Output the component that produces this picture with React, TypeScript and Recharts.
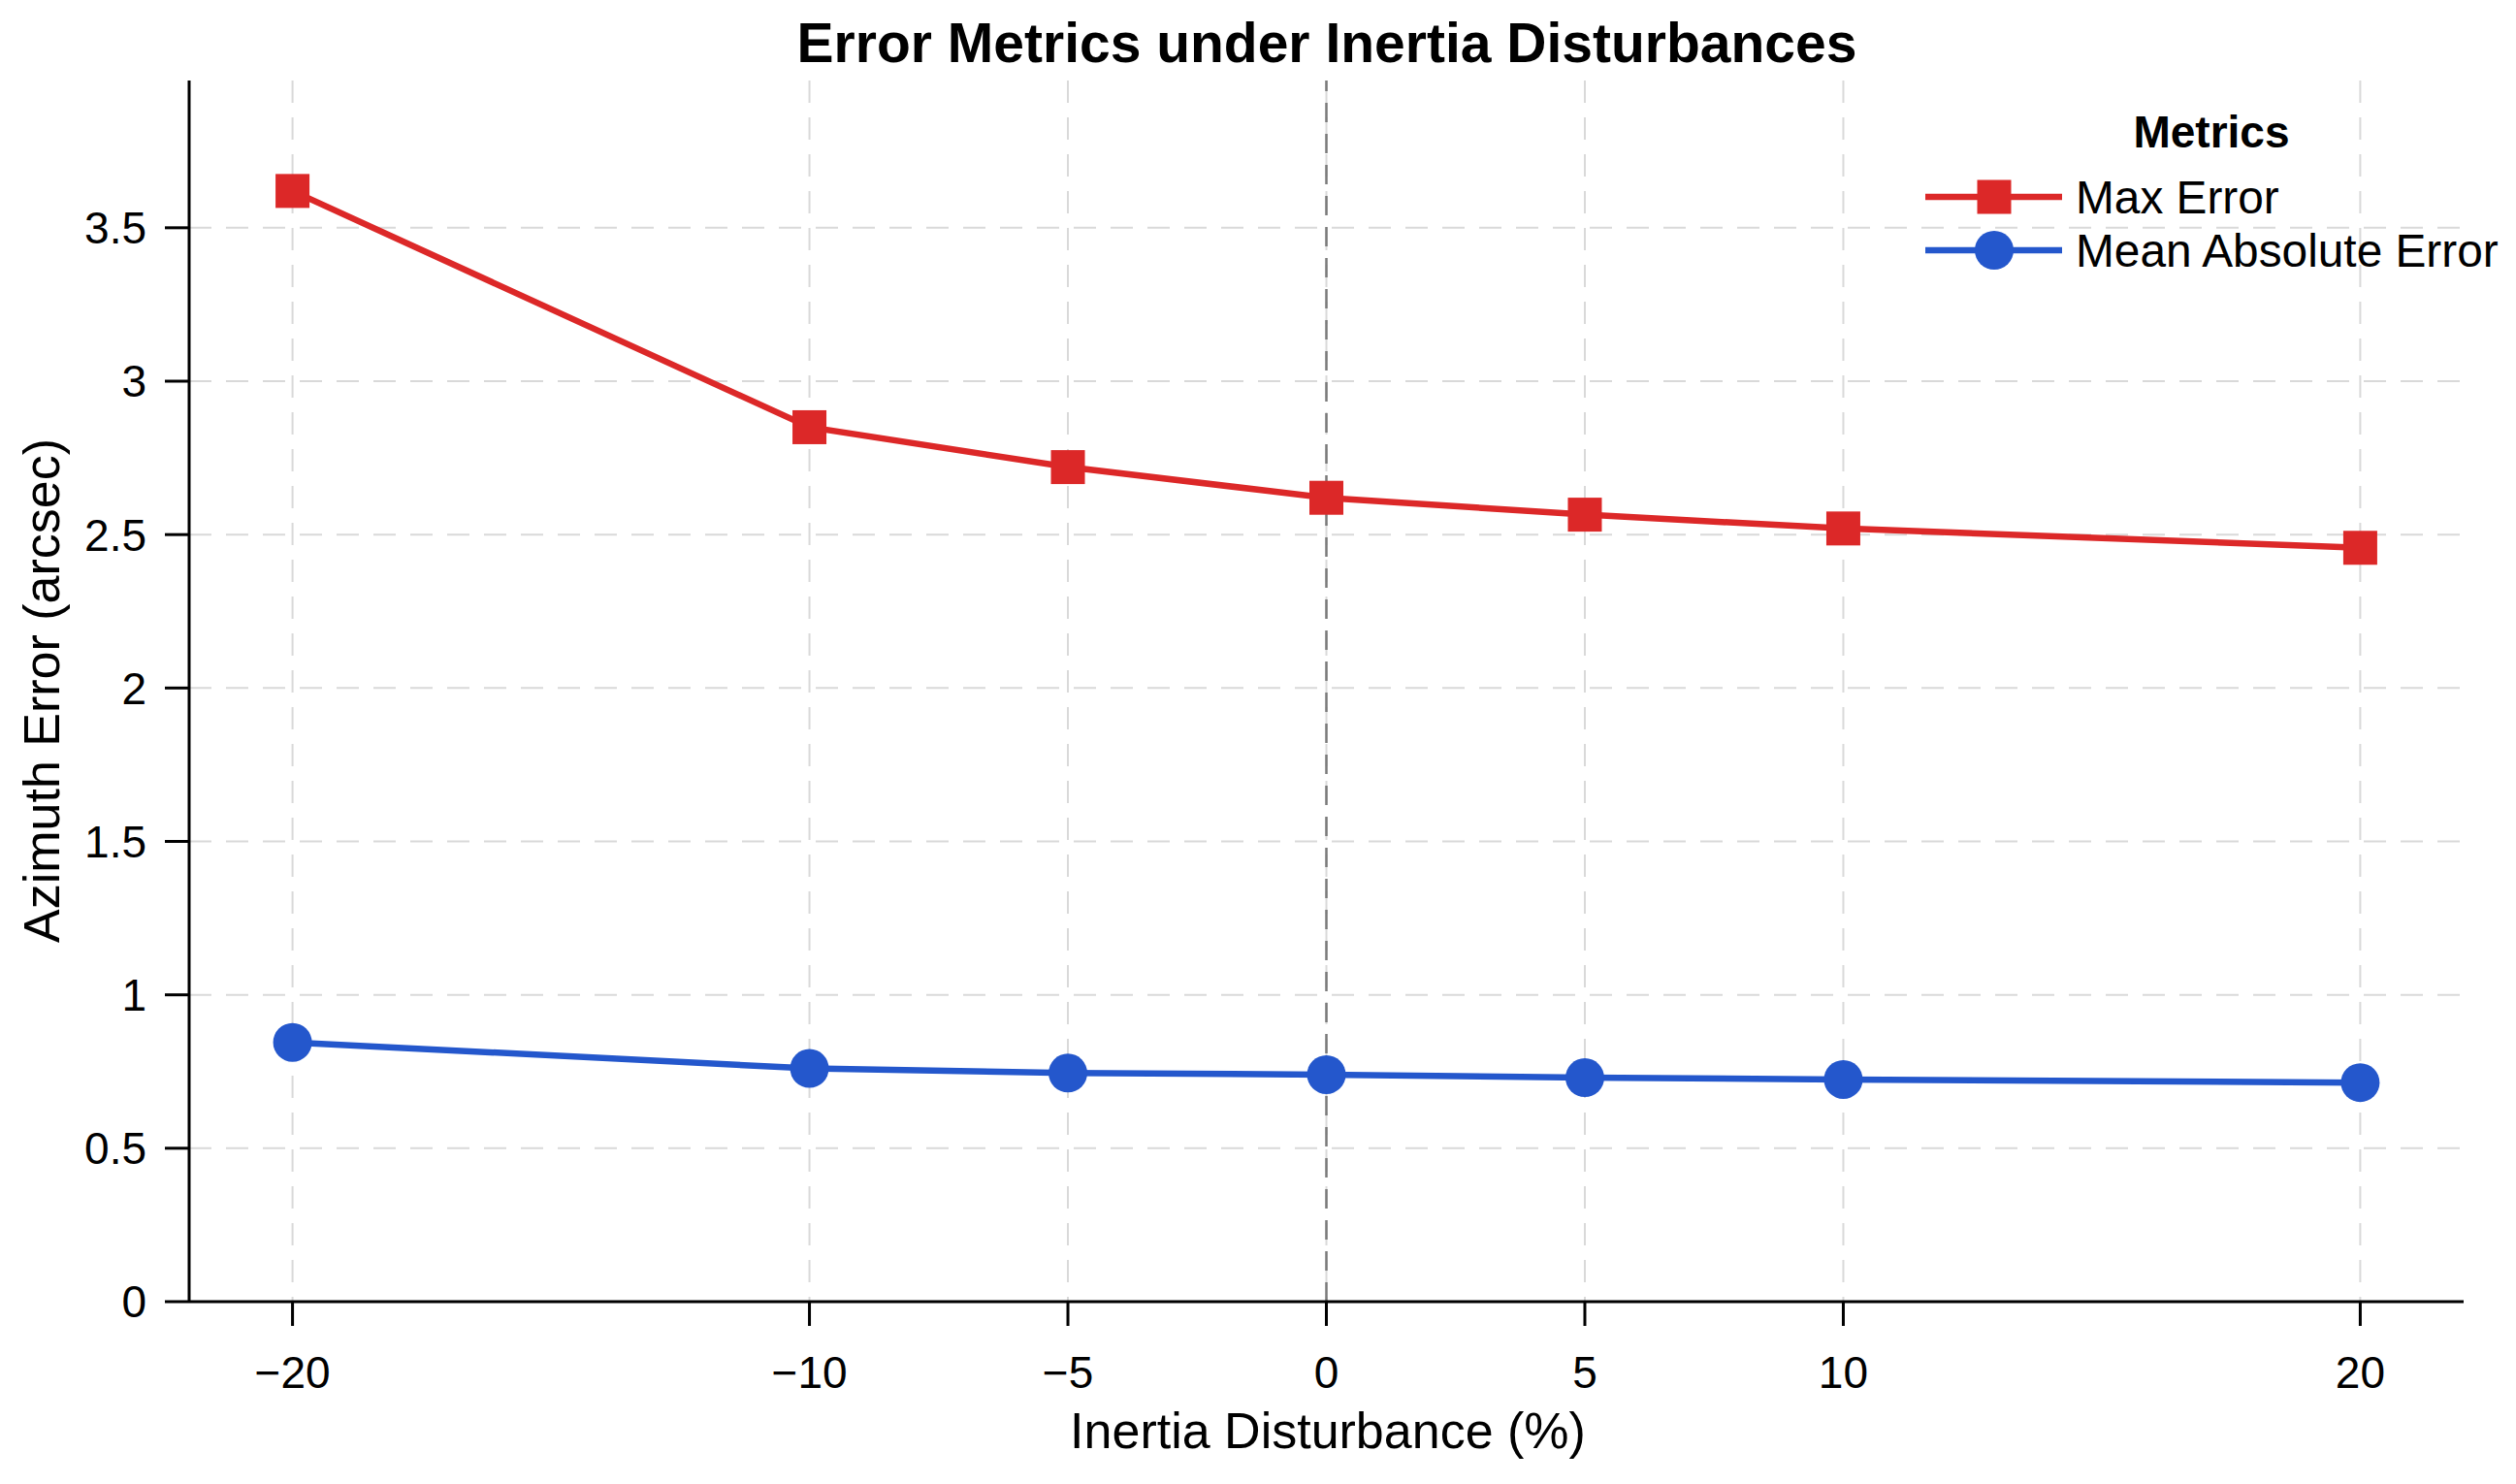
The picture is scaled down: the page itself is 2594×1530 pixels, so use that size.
import React from "react";
import {
  LineChart,
  Line,
  XAxis,
  YAxis,
  CartesianGrid,
  ReferenceLine,
} from "recharts";

// values
const disturbance = [-20, -10, -5, 0, 5, 10, 20];
const maxError = [3.62, 2.85, 2.72, 2.62, 2.565, 2.52, 2.457];
const meanAbsError = [0.845, 0.76, 0.745, 0.74, 0.73, 0.724, 0.714];

const xTicks = [-20, -10, -5, 0, 5, 10, 20];
const yTicks = [0, 0.5, 1, 1.5, 2, 2.5, 3, 3.5];

const X_DOMAIN: [number, number] = [-22, 22];
const Y_DOMAIN: [number, number] = [0, 3.98];

const RED = "#dc2828";
const BLUE = "#2457cc";
const FONT = "'Liberation Sans', Arial, Helvetica, sans-serif";

const series = [
  { key: "maxError", name: "Max Error", color: RED, marker: "square" },
  { key: "meanAbsError", name: "Mean Absolute Error", color: BLUE, marker: "circle" },
];

const data = disturbance.map((x, i) => ({
  x,
  maxError: maxError[i],
  meanAbsError: meanAbsError[i],
}));

const W = 2594;
const H = 1530;

const fmtMinus = (v: number) => (v < 0 ? `\u2212${Math.abs(v)}` : `${v}`);

const SquareDot = (color: string) => (props: any) => {
  const { cx, cy, index } = props;
  if (cx == null || cy == null) return null;
  return (
    <rect
      key={`sq-${index}`}
      x={cx - 17.5}
      y={cy - 17.5}
      width={35}
      height={35}
      fill={color}
    />
  );
};

// grid lines only at the tick values (no lines on the plot edges)
const vGrid = ({ xAxis, offset }: any) => {
  const sc = xAxis && typeof xAxis.scale === "function" ? xAxis.scale : null;
  return xTicks.map((t) =>
    sc
      ? sc(t)
      : offset.left +
        ((t - X_DOMAIN[0]) / (X_DOMAIN[1] - X_DOMAIN[0])) * offset.width
  );
};
const hGrid = ({ yAxis, offset }: any) => {
  const sc = yAxis && typeof yAxis.scale === "function" ? yAxis.scale : null;
  return yTicks
    .filter((t) => t > 0)
    .map((t) =>
      sc
        ? sc(t)
        : offset.top +
          offset.height -
          ((t - Y_DOMAIN[0]) / (Y_DOMAIN[1] - Y_DOMAIN[0])) * offset.height
    );
};

const tickStyle = { fill: "#000", fontSize: 46, fontFamily: FONT };

export default function App() {
  return (
    <div
      style={{
        position: "fixed",
        left: 0,
        top: 0,
        width: W,
        height: H,
        background: "#fff",
      }}
    >
      <LineChart
        width={W}
        height={H}
        data={data}
        margin={{ top: 83, right: 54, left: 0, bottom: 0 }}
      >
        <CartesianGrid
          stroke="#d9d9d9"
          strokeWidth={2}
          strokeDasharray="23 15"
          verticalCoordinatesGenerator={vGrid}
          horizontalCoordinatesGenerator={hGrid}
        />
        <XAxis
          type="number"
          dataKey="x"
          domain={X_DOMAIN}
          ticks={xTicks}
          allowDataOverflow
          height={188}
          tickFormatter={fmtMinus}
          tick={tickStyle}
          tickSize={25}
          tickMargin={31}
          tickLine={{ stroke: "#000", strokeWidth: 3 }}
          axisLine={{ stroke: "#000", strokeWidth: 3 }}
        />
        <YAxis
          type="number"
          domain={Y_DOMAIN}
          ticks={yTicks}
          allowDataOverflow
          width={195}
          tick={tickStyle}
          tickSize={25}
          tickMargin={19}
          tickLine={{ stroke: "#000", strokeWidth: 3 }}
          axisLine={{ stroke: "#000", strokeWidth: 3 }}
        />
        <ReferenceLine
          x={0}
          stroke="#7a7a7a"
          strokeWidth={2.5}
          strokeDasharray="20 12"
        />
        {series.map((s) => (
          <Line
            key={s.key}
            type="linear"
            dataKey={s.key}
            name={s.name}
            stroke={s.color}
            strokeWidth={6.5}
            dot={
              s.marker === "square"
                ? SquareDot(s.color)
                : { r: 20, fill: s.color, stroke: s.color, strokeWidth: 0 }
            }
            activeDot={false}
            isAnimationActive={false}
          />
        ))}
      </LineChart>

      <svg
        width={W}
        height={H}
        style={{ position: "absolute", left: 0, top: 0, pointerEvents: "none" }}
      >
        <text
          x={1368}
          y={64}
          textAnchor="middle"
          fontFamily={FONT}
          fontWeight="bold"
          fontSize={57}
        >
          Error Metrics under Inertia Disturbances
        </text>
        <text
          x={1369}
          y={1493}
          textAnchor="middle"
          fontFamily={FONT}
          fontSize={52}
        >
          Inertia Disturbance (%)
        </text>
        <text
          x={61}
          y={712}
          textAnchor="middle"
          fontFamily={FONT}
          fontSize={52}
          transform="rotate(-90, 61, 712)"
        >
          Azimuth Error (arcsec)
        </text>

        {/* legend */}
        <text
          x={2280}
          y={152}
          textAnchor="middle"
          fontFamily={FONT}
          fontWeight="bold"
          fontSize={46}
        >
          Metrics
        </text>
        {series.map((s, i) => {
          const cy = 203 + i * 55;
          return (
            <g key={s.key}>
              <line x1={1985} x2={2126} y1={cy} y2={cy} stroke={s.color} strokeWidth={6.5} />
              {s.marker === "square" ? (
                <rect x={2056 - 17.5} y={cy - 17.5} width={35} height={35} fill={s.color} />
              ) : (
                <circle cx={2056} cy={cy} r={20} fill={s.color} />
              )}
              <text x={2140} y={cy + 17} fontFamily={FONT} fontSize={47.8}>
                {s.name}
              </text>
            </g>
          );
        })}
      </svg>
    </div>
  );
}
